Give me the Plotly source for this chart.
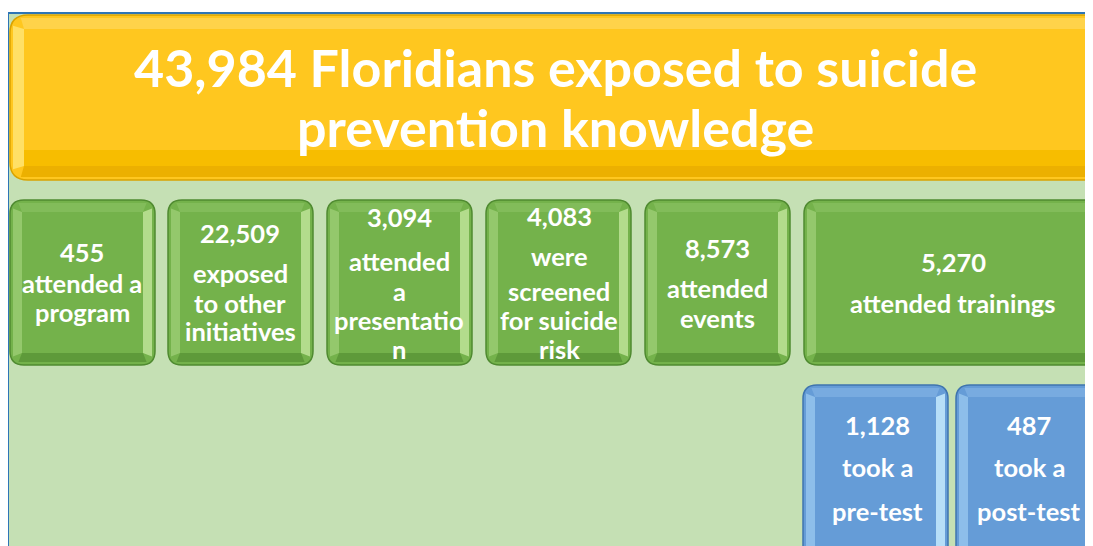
import plotly.graph_objects as go

# ---- data ----
total_value = 43984
total_label = ["Floridians exposed to suicide", "prevention knowledge"]

reach_values = [455, 22509, 3094, 4083, 8573, 5270]
reach_labels = [
    ["attended a", "program"],
    ["exposed", "to other", "initiatives"],
    ["attended", "a", "presentatio", "n"],
    ["were", "screened", "for suicide", "risk"],
    ["attended", "events"],
    ["attended trainings"],
]

test_values = [1128, 487]
test_labels = [["took a", "pre-test"], ["took a", "post-test"]]

# ---- layout (pixel positions in the page) ----
W, H = 1093, 546
OFF = 8  # default page body margin
reach_x = [(10, 155), (168, 313), (327, 472), (486, 631), (645, 790), (804, 1120)]
reach_y = (200, 365)
reach_line_y = [
    [252, 283, 312],
    [233, 273, 303, 331],
    [217, 261, 291, 320, 349],
    [216, 256, 291, 320, 349],
    [248, 288, 318],
    [262, 303],
]
test_x = [(803, 948), (956, 1120)]
test_y = (385, 580)
test_line_y = [[425, 467, 511], [425, 467, 511]]

FONT = "Lato"
TITLE_SIZE = 52
BOX_SIZE = 25.5

def rpath(x0, y0, x1, y1, r):
    return (f"M {x0+r},{y0} L {x1-r},{y0} Q {x1},{y0} {x1},{y0+r} "
            f"L {x1},{y1-r} Q {x1},{y1} {x1-r},{y1} L {x0+r},{y1} "
            f"Q {x0},{y1} {x0},{y1-r} L {x0},{y0+r} Q {x0},{y0} {x0+r},{y0} Z")

def poly(pts):
    return "M " + " L ".join(f"{x},{y}" for x, y in pts) + " Z"

shapes = []
shapes.append(dict(type="rect", x0=8, y0=13, x1=1130, y1=590,
                   fillcolor="#C5E0B4", line=dict(color="#2E75B6", width=2), layer="below"))

def bevel_box(x0, y0, x1, y1, r, face, border, left, right, top, bottom, b=12):
    shapes.append(dict(type="path", path=rpath(x0, y0, x1, y1, r),
                       fillcolor=face, line=dict(color=border, width=1.5)))
    shapes.append(dict(type="path", path=poly([(x0+3, y0+r*0.6), (x0+b, y0+b), (x0+b, y1-b), (x0+3, y1-r*0.6)]),
                       fillcolor=left, line=dict(width=0)))
    shapes.append(dict(type="path", path=poly([(x1-3, y0+r*0.6), (x1-b, y0+b), (x1-b, y1-b), (x1-3, y1-r*0.6)]),
                       fillcolor=right, line=dict(width=0)))
    shapes.append(dict(type="path", path=poly([(x0+r*0.6, y0+3), (x1-r*0.6, y0+3), (x1-b, y0+b), (x0+b, y0+b)]),
                       fillcolor=top, line=dict(width=0)))
    shapes.append(dict(type="path", path=poly([(x0+r*0.6, y1-3), (x1-r*0.6, y1-3), (x1-b, y1-b), (x0+b, y1-b)]),
                       fillcolor=bottom, line=dict(width=0)))

bevel_box(10, 15, 1130, 180, 18, "#FFC71F", "#D9A300", "#FFE066", "#FFD53A", "#FFD34A", "#ECB000", b=14)
shapes.append(dict(type="rect", x0=24, y0=150, x1=1120, y1=166, fillcolor="#F7BD00", line=dict(width=0)))

green = ("#74B24B", "#4F8A30", "#94C86C", "#B3DC8C", "#82BC5A", "#5E9A3A")
blue = ("#659CD7", "#3F74AE", "#8DBEEA", "#B6DEF8", "#78ABE0", "#4F86C2")
for (x0, x1) in reach_x:
    bevel_box(x0, reach_y[0], x1, reach_y[1], 14, *green)
for (x0, x1) in test_x:
    bevel_box(x0, test_y[0], x1, test_y[1], 14, *blue)

annotations = []
def txt(x, y, s, size):
    annotations.append(dict(x=x, y=y, text=s, showarrow=False, xref="x", yref="y",
                            xanchor="center", yanchor="middle",
                            font=dict(family=FONT, size=size, color="white", weight="bold")))

txt(555, 67, f"{total_value:,} {total_label[0]}", TITLE_SIZE)
txt(555, 127, total_label[1], TITLE_SIZE)

reach_cx = [82, 240, 399, 559, 717, 953]
for i, (v, labs) in enumerate(zip(reach_values, reach_labels)):
    lines = [f"{v:,}"] + labs
    for s, y in zip(lines, reach_line_y[i]):
        txt(reach_cx[i], y, s, BOX_SIZE)

test_cx = [877, 1029]
for i, (v, labs) in enumerate(zip(test_values, test_labels)):
    lines = [f"{v:,}"] + labs
    for s, y in zip(lines, test_line_y[i]):
        txt(test_cx[i], y, s, BOX_SIZE)

fig = go.Figure()
fig.add_trace(go.Scatter(x=[OFF, W], y=[OFF, H], mode="markers", marker=dict(opacity=0),
                         hoverinfo="skip", showlegend=False))
fig.update_layout(
    width=W, height=H - OFF, margin=dict(l=0, r=0, t=0, b=0),
    paper_bgcolor="white", plot_bgcolor="white",
    xaxis=dict(range=[OFF, W + OFF], visible=False, fixedrange=True),
    yaxis=dict(range=[H, OFF], visible=False, fixedrange=True),
    shapes=shapes, annotations=annotations, showlegend=False,
)
fig.write_html("out.html")
